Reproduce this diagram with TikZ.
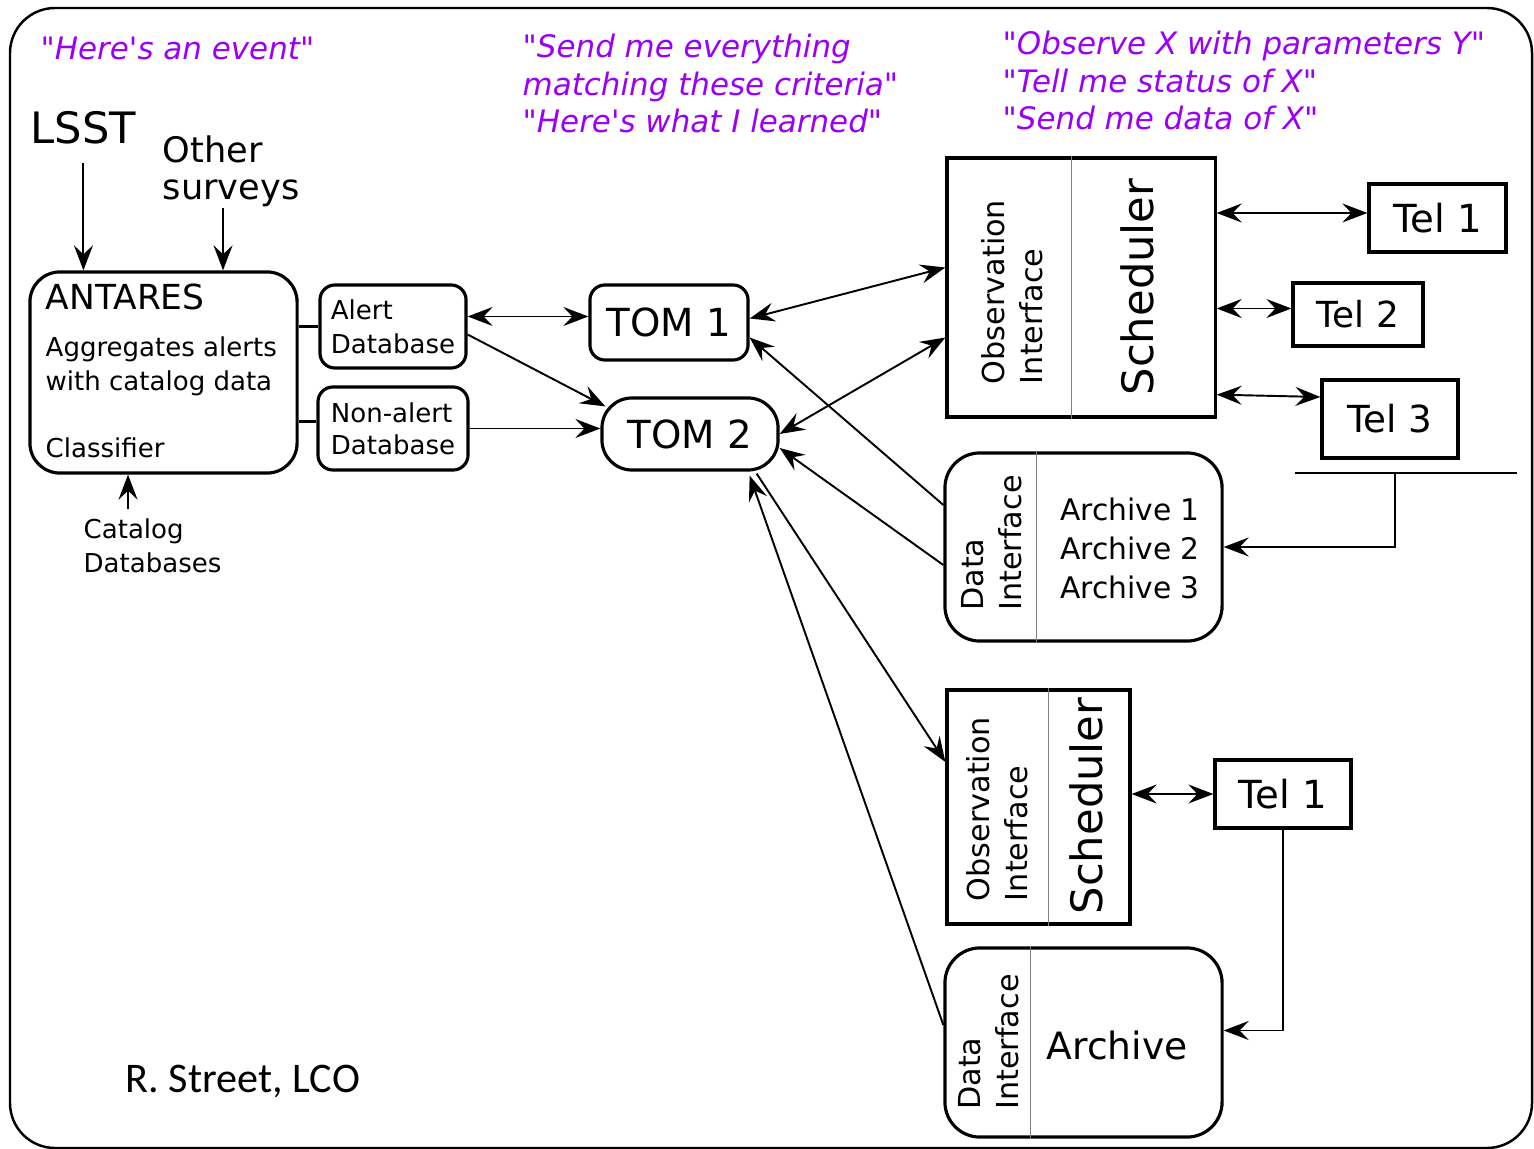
\documentclass[tikz,border=0pt]{standalone}
\usepackage{fontspec}
\setmainfont{DejaVu Sans}[Ligatures=TeXOff]
\newfontfamily\creditfont{Carlito}
\usetikzlibrary{arrows.meta}
\definecolor{quotepurple}{RGB}{155,0,245}
\newcommand{\fsz}[2]{\fontsize{#1}{#2}\selectfont}

\begin{document}
\begin{tikzpicture}[x=0.01cm,y=-0.01cm,
        box/.style={draw,line width=0.9pt,inner sep=0pt},
        quote/.style={text=quotepurple,font=\fsz{8.8}{10.8}\itshape,align=left,inner sep=0pt,anchor=base west},
        lbl/.style={align=left,inner sep=0pt,anchor=base west},
        vlbl/.style={rotate=90,align=left,inner sep=0pt},
        divider/.style={gray,line width=0.4pt},
        arr/.style={-{Stealth[length=2.5mm,width=1.9mm,inset=0.9mm]},line width=0.55pt},
        biarr/.style={{Stealth[length=2.5mm,width=1.9mm,inset=0.9mm]}-{Stealth[length=2.5mm,width=1.9mm,inset=0.9mm]},line width=0.55pt}]
    \useasboundingbox (0,0) rectangle (1534,1149);
    \draw[line width=0.7pt,rounded corners=0.45cm] (10,8) rectangle (1532,1148);

    % what each layer says (base = last line)
    \node[quote](qevent) at (40,60){"Here's an event"};
    \node[quote](qquery) at (522,133){"Send me everything\\matching these criteria"\\"Here's what I learned"};
    \node[quote](qobs) at (1002,130){"Observe X with parameters Y"\\"Tell me status of X"\\"Send me data of X"};

    % broker
    \node[lbl,font=\fsz{12.3}{14}](lsst) at (30,144){LSST};
    \node[lbl,font=\fsz{10}{10.8}](other) at (162,200){Other\\surveys};
    \node[box,rounded corners=0.3cm,minimum width=2.67cm,minimum height=2.01cm](antares) at (163.5,372.5){};
    \node[lbl,font=\fsz{9.8}{11}](antname) at (45,310){ANTARES};
    \node[lbl,font=\fsz{7.4}{9.4}](antdesc) at (45,390){Aggregates alerts\\with catalog data};
    \node[lbl,font=\fsz{7.4}{9.4}](antclass) at (45,457){Classifier};
    \node[lbl,font=\fsz{7.4}{9.6}](catalog) at (83,572){Catalog\\Databases};
    \node[box,rounded corners=0.15cm,minimum width=1.46cm,minimum height=0.83cm,align=left,font=\fsz{7.4}{9.6}](alertdb) at (393,326.5){Alert\\Database};
    \node[box,rounded corners=0.15cm,minimum width=1.50cm,minimum height=0.83cm,align=left,font=\fsz{7.4}{9.2}](nonalertdb) at (393,428.5){Non-alert\\Database};

    % TOMs
    \node[box,rounded corners=0.15cm,minimum width=1.58cm,minimum height=0.75cm,font=\fsz{11}{13}](tomA) at (669,322.5){TOM 1};
    \node[box,rounded corners=0.3cm,minimum width=1.76cm,minimum height=0.72cm,font=\fsz{11}{13}](tomB) at (690,434){TOM 2};

    % network with three telescopes
    \node[box,minimum width=2.68cm,minimum height=2.59cm](obsA) at (1081,287.5){};
    \draw[divider] ([xshift=1.26cm]obsA.north west) -- ([xshift=1.26cm]obsA.south west);
    \node[vlbl,font=\fsz{8.6}{10.8}](obsAtxt) at (1012,292){Observation\\Interface};
    \node[vlbl,font=\fsz{12.3}{14}](schedA) at (1137,287){Scheduler};
    \node[box,minimum width=1.37cm,minimum height=0.68cm,font=\fsz{11}{13}](telA) at (1437.5,218){Tel 1};
    \node[box,minimum width=1.30cm,minimum height=0.63cm,font=\fsz{10.2}{12}](telB) at (1358,314.5){Tel 2};
    \node[box,minimum width=1.36cm,minimum height=0.78cm,font=\fsz{10.6}{12}](telC) at (1390,419){Tel 3};
    \coordinate (busL) at (1295,473);
    \coordinate (busR) at (1517,473);
    \coordinate (busM) at (1395,473);
    \draw[line width=0.55pt] (busL) -- (busR);
    \node[box,rounded corners=0.35cm,minimum width=2.77cm,minimum height=1.88cm](dataA) at (1083.5,547){};
    \draw[divider] ([xshift=0.93cm]dataA.north west) -- ([xshift=0.93cm]dataA.south west);
    \node[vlbl,font=\fsz{8.6}{10.8}](dataAtxt) at (992,543){Data\\Interface};
    \node[align=left,inner sep=0pt,font=\fsz{8.45}{11.1}](archA) at (1130,548){Archive 1\\Archive 2\\Archive 3};

    % single telescope
    \node[box,minimum width=1.83cm,minimum height=2.34cm](obsB) at (1038.5,807){};
    \draw[divider] ([xshift=1.03cm]obsB.north west) -- ([xshift=1.03cm]obsB.south west);
    \node[vlbl,font=\fsz{8.6}{10.8}](obsBtxt) at (997,809){Observation\\Interface};
    \node[vlbl,font=\fsz{12.3}{14}](schedB) at (1086,806){Scheduler};
    \node[box,minimum width=1.36cm,minimum height=0.68cm,font=\fsz{11}{13}](telD) at (1283,794){Tel 1};
    \node[box,rounded corners=0.35cm,minimum width=2.77cm,minimum height=1.89cm](dataB) at (1083.5,1042.5){};
    \draw[divider] ([xshift=0.87cm]dataB.north west) -- ([xshift=0.87cm]dataB.south west);
    \node[vlbl,font=\fsz{8.6}{10.8}](dataBtxt) at (989,1042){Data\\Interface};
    \node[inner sep=0pt,font=\fsz{10.7}{12}](archB) at (1117,1045){Archive};

    \node[lbl,font=\creditfont\fsz{12}{14}](credit) at (125,1092){R. Street, LCO};

    % connectors
    \draw[arr] ([yshift=-1.8mm]lsst.south) -- (lsst.south |- antares.north);
    \draw[arr] ([xshift=-0.8mm]other.south) -- ([xshift=-0.8mm]other.south |- antares.north);
    \draw[arr] ([xshift=4.5mm,yshift=0.9mm]catalog.north west) -- ([xshift=4.5mm]catalog.north west |- antares.south);
    \draw[line width=0.9pt] (antares.east |- alertdb.west) -- (alertdb.west);
    \draw[line width=0.9pt] ([yshift=0.7mm]antares.east |- nonalertdb.west) -- ([yshift=0.7mm]nonalertdb.west);
    \draw[biarr] ([yshift=1mm]alertdb.east) -- ([yshift=1mm]alertdb.east -| tomA.west);
    \draw[arr] ([yshift=-0.8mm]alertdb.east) -- ([shift={(5,10)}]tomB.north west);
    \draw[arr] (nonalertdb.east) -- (nonalertdb.east -| tomB.west);
    \draw[biarr] ([yshift=0.4mm]tomA.east) -- ([yshift=2mm]obsA.west);
    \draw[biarr] (tomB.east) -- ([yshift=-5mm]obsA.west);
    \draw[arr] ([yshift=4.2mm]dataA.west) -- ([yshift=-1.5mm]tomA.east);
    \draw[arr] ([yshift=-1.8mm]dataA.west) -- ([yshift=-1.4mm]tomB.east);
    \draw[arr] ([shift={(-23,2)}]tomB.south east) -- ([yshift=4.5mm]obsB.west);
    \draw[arr] ([yshift=1.75mm]dataB.west) -- ([shift={(-30,4)}]tomB.south east);
    \draw[biarr] ([yshift=0.5mm]telA.west -| obsA.east) -- ([yshift=0.5mm]telA.west);
    \draw[biarr] ([yshift=0.6mm]telB.west -| obsA.east) -- ([yshift=0.6mm]telB.west);
    \draw[biarr] ([yshift=2.4mm]obsA.south east) -- ([yshift=2.2mm]telC.west);
    \draw[biarr] (telD.west -| obsB.east) -- (telD.west);
    \draw[arr] (busM) |- (dataA.east);
    \draw[arr] (telD.south) |- ([yshift=1.2mm]dataB.east);
\end{tikzpicture}
\end{document}
